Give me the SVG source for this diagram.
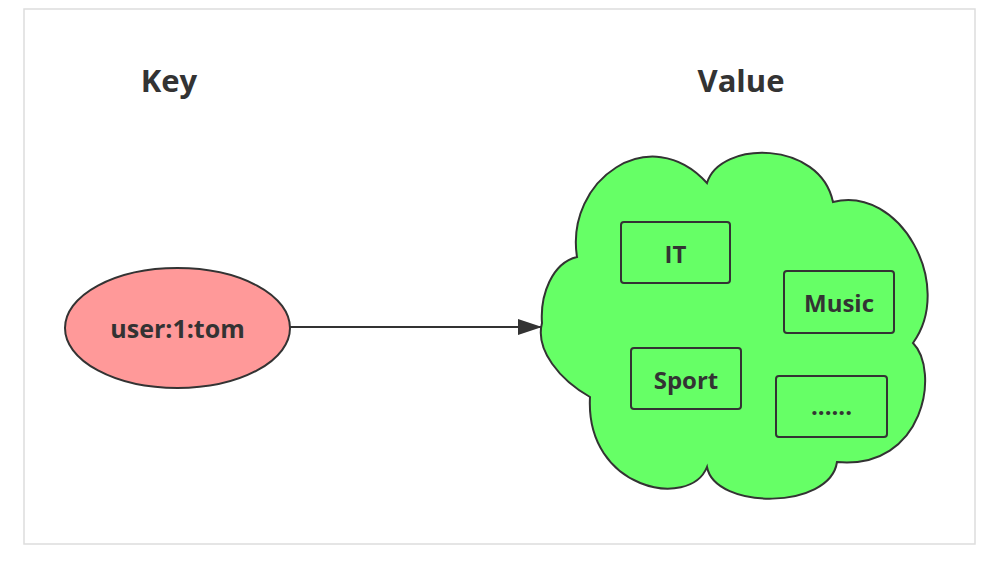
<svg xmlns="http://www.w3.org/2000/svg" width="993" height="563" viewBox="0 0 993 563">
  <style>
    .lbl { font-family: "Open Sans", "Noto Sans", "Liberation Sans", sans-serif; font-weight: bold; fill: #333333; text-anchor: middle; dominant-baseline: central; }
    .box { fill: #66FF66; stroke: #333333; stroke-width: 2; }
    .title { font-size: 31px; }
    .item { font-size: 24px; }
  </style>
  <defs>
    <marker id="arrow" viewBox="0 0 24 16" refX="24" refY="8" markerWidth="24" markerHeight="16" markerUnits="userSpaceOnUse" orient="auto">
      <path d="M0,0 L24,8 L0,16 Z" fill="#333333"/>
    </marker>
  </defs>
  <rect x="0" y="0" width="993" height="563" fill="#ffffff"/>
  <rect x="24" y="9" width="951" height="535" fill="#ffffff" stroke="#dddddd" stroke-width="1.5"/>

  <g id="title-key"><text class="lbl title" x="169" y="80">Key</text></g>
  <g id="title-value"><text class="lbl title" x="741" y="80">Value</text></g>

  <g id="connectors">
    <line x1="290" y1="327" x2="542" y2="327" stroke="#333333" stroke-width="2" marker-end="url(#arrow)"/>
  </g>

  <g id="key-node">
    <ellipse cx="177.5" cy="328" rx="112.5" ry="60" fill="#FF9999" stroke="#333333" stroke-width="2"/>
    <text class="lbl" style="font-size:25px" x="177.5" y="328">user:1:tom</text>
  </g>

  <g id="value-cloud">
    <path d="M542,323 C540,295 552,263 577,257 C565,180 650,120 707,183 C720,140 820,140 833,202 C900,185 955,285 913,343 C940,370 925,470 837,462 C830,510 715,510 707,467 C690,510 585,490 590,397 C560,380 535,350 542,323 Z" fill="#66FF66" stroke="#333333" stroke-width="2"/>
  </g>

  <g id="item-it">
    <rect class="box" x="621" y="222" width="109" height="61" rx="3"/>
    <text class="lbl item" x="675.5" y="253">IT</text>
  </g>
  <g id="item-music">
    <rect class="box" x="784" y="271" width="110" height="62" rx="3"/>
    <text class="lbl item" x="839" y="302">Music</text>
  </g>
  <g id="item-sport">
    <rect class="box" x="631" y="348" width="110" height="61" rx="3"/>
    <text class="lbl item" x="686" y="379">Sport</text>
  </g>
  <g id="item-more">
    <rect class="box" x="776" y="376" width="111" height="61" rx="3"/>
    <text class="lbl item" x="831.5" y="405">......</text>
  </g>
</svg>
